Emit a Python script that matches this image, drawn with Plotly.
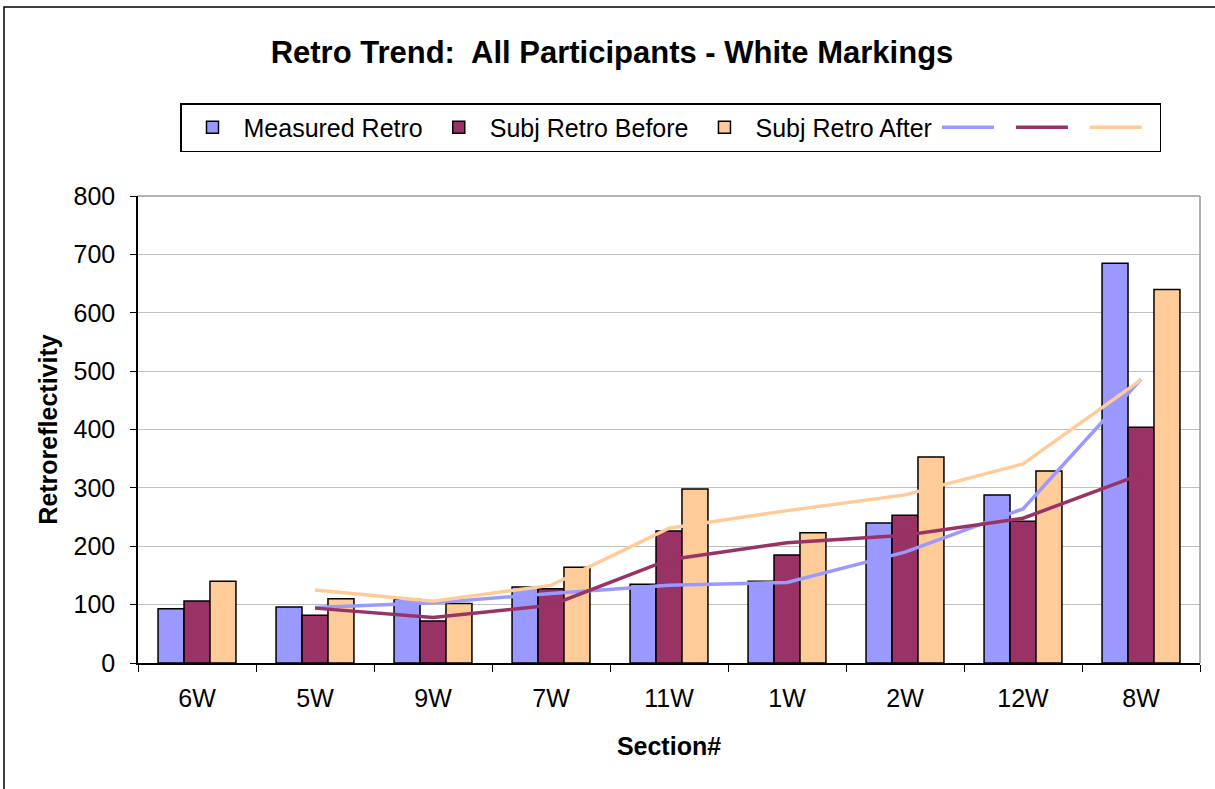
import plotly.graph_objects as go

sections = ["6W", "5W", "9W", "7W", "11W", "1W", "2W", "12W", "8W"]
measured = [93, 96, 109, 130, 135, 140, 240, 288, 685]
subj_before = [106, 82, 72, 127, 226, 185, 253, 243, 404]
subj_after = [140, 110, 102, 164, 298, 223, 353, 329, 640]

# trend lines (start at 5W)
trend_sections = ["5W", "9W", "7W", "11W", "1W", "2W", "12W", "8W"]
trend_measured = [95, 103, 119, 133, 138, 190, 264, 486]
trend_before = [94, 78, 99, 177, 206, 219, 248, 323]
trend_after = [125, 106, 133, 231, 261, 288, 341, 485]

y_ticks = [0, 100, 200, 300, 400, 500, 600, 700, 800]

c_meas = "#9999FF"
c_bef = "#993366"
c_aft = "#FFCC99"
FONT = "Liberation Sans, Arial, sans-serif"

fig = go.Figure()
for name, vals, col in [("Measured Retro", measured, c_meas),
                        ("Subj Retro Before", subj_before, c_bef),
                        ("Subj Retro After", subj_after, c_aft)]:
    fig.add_trace(go.Bar(x=sections, y=vals, name=name, marker_color=col,
                         marker_line_color="black", marker_line_width=1.5))
for vals, col in [(trend_measured, c_meas), (trend_before, c_bef), (trend_after, c_aft)]:
    fig.add_trace(go.Scatter(x=trend_sections, y=vals, mode="lines", name=" ",
                             line=dict(color=col, width=3.5)))

W, H = 1215, 789
# plot area on the page: x 138..1200, y 196..663 (body margin removed by post_script)
L, T = 138, 196
pw, ph = 1062, 467
R = W - L - pw
B = H - T - ph

def px(x):
    return (x - 138) / pw

def py(y):
    return (663 - y) / ph

fig.update_layout(
    width=W, height=H,
    margin=dict(l=L, r=R, t=T, b=B),
    paper_bgcolor="white", plot_bgcolor="white",
    font=dict(family=FONT, size=25, color="black"),
    barmode="group", bargap=0.34, bargroupgap=0,
    title=dict(text="<b>Retro Trend:  All Participants - White Markings</b>",
               x=px(612), xref="paper", xanchor="center",
               y=1 - 52 / H, yanchor="middle", font=dict(size=31)),
    legend=dict(orientation="h", x=px(180), y=py(103), xanchor="left", yanchor="top",
                bordercolor="black", borderwidth=1.5, bgcolor="white",
                font=dict(size=25), itemwidth=52, tracegroupgap=0),
    xaxis=dict(showline=True, linecolor="black", linewidth=1.5,
               ticks="outside", tickson="boundaries", ticklen=7, tickcolor="black",
               ticklabelstandoff=12,
               title=dict(text="<b>Section#</b>", font=dict(size=25), standoff=27),
               tickfont=dict(size=25)),
    yaxis=dict(range=[0, 800], tickvals=y_ticks, showline=True, linecolor="black",
               linewidth=1.5, ticks="outside", ticklen=6, tickcolor="black",
               gridcolor="#C0C0C0", gridwidth=1, zeroline=False,
               ticklabelstandoff=10,
               title=dict(text="<b>Retroreflectivity</b>", font=dict(size=25), standoff=9),
               tickfont=dict(size=25)),
    showlegend=True,
)

# plot area grey border top/right
fig.add_shape(type="line", xref="paper", yref="paper", x0=0, x1=1, y0=1, y1=1,
              line=dict(color="#999999", width=1.5))
fig.add_shape(type="line", xref="paper", yref="paper", x0=1, x1=1, y0=0, y1=1,
              line=dict(color="#999999", width=1.5))
# outer chart border
fig.add_shape(type="rect", xref="paper", yref="paper", x0=px(4), x1=px(1260),
              y0=py(840), y1=py(7), line=dict(color="black", width=1.5), layer="below")

fig.write_html("out.html", config={"displayModeBar": False},
               post_script="document.body.style.margin='0';")
